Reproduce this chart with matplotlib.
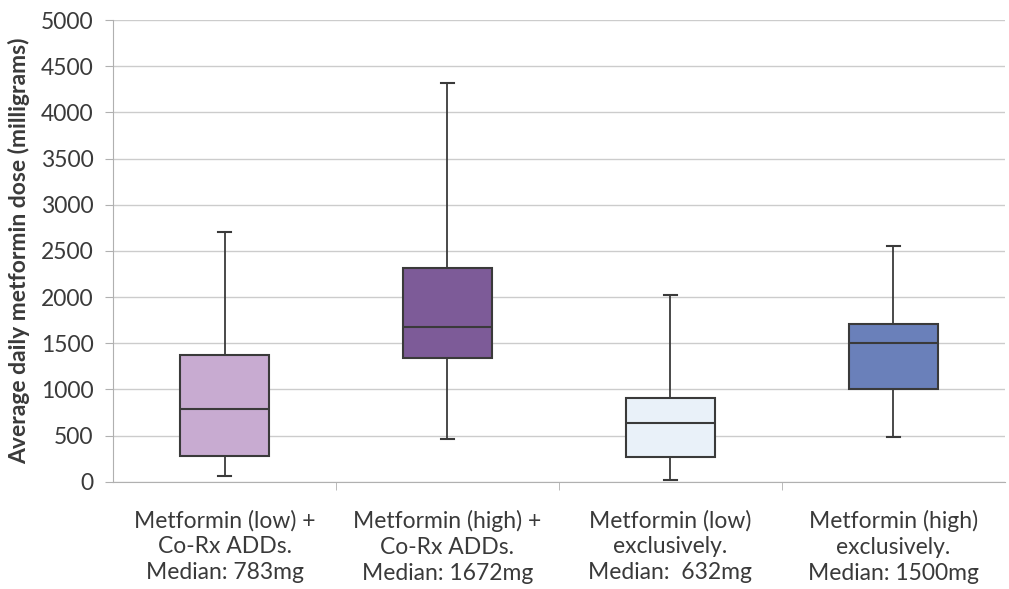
import matplotlib.pyplot as plt

categories = ["Metformin (low) +\nCo-Rx ADDs.\nMedian: 783mg",
              "Metformin (high) +\nCo-Rx ADDs.\nMedian: 1672mg",
              "Metformin (low)\nexclusively.\nMedian:  632mg",
              "Metformin (high)\nexclusively.\nMedian: 1500mg"]
whisker_low = [65, 460, 20, 480]
q1 = [280, 1340, 265, 1000]
medians = [783, 1672, 632, 1500]
q3 = [1370, 2315, 905, 1705]
whisker_high = [2700, 4320, 2020, 2550]
colors = ["#c8abd1", "#7d5b98", "#e9f1f9", "#6a80ba"]

plt.rcParams['font.family'] = ['Lato', 'DejaVu Sans']

fig = plt.figure(figsize=(10.09, 5.89), dpi=100)
ax = fig.add_axes([0.112, 0.182, 0.884, 0.784])

stats = []
for i in range(len(categories)):
    stats.append(dict(whislo=whisker_low[i], q1=q1[i], med=medians[i],
                      q3=q3[i], whishi=whisker_high[i], fliers=[]))

edge = "#3a3a3a"
bp = ax.bxp(stats, positions=range(1, 5), widths=0.4, patch_artist=True,
            showfliers=False, capwidths=0.055,
            boxprops=dict(edgecolor=edge, linewidth=1.5),
            medianprops=dict(color=edge, linewidth=1.5),
            whiskerprops=dict(color=edge, linewidth=1.3),
            capprops=dict(color=edge, linewidth=1.5))
for patch, c in zip(bp['boxes'], colors):
    patch.set_facecolor(c)

ax.set_xlim(0.5, 4.5)
ax.set_ylim(0, 5000)
ax.set_yticks(range(0, 5001, 500))
ax.set_xticks(range(1, 5))
ax.set_xticklabels(categories, fontsize=16.5, color="#3a3a3a", linespacing=1.3)
ax.set_xticks([1.5, 2.5, 3.5], minor=True)
ax.tick_params(axis='x', which='major', length=0, pad=20)
ax.tick_params(axis='x', which='minor', length=6, color="#b0b0b0")
ax.tick_params(axis='y', length=6, color="#b0b0b0", labelsize=16.5,
               labelcolor="#3a3a3a", pad=8)

ax.grid(axis='y', color="#cccccc", linewidth=1)
ax.set_axisbelow(True)
for s in ['top', 'right']:
    ax.spines[s].set_visible(False)
ax.spines['left'].set_color("#b0b0b0")
ax.spines['bottom'].set_color("#b0b0b0")

ax.set_ylabel("Average daily metformin dose (milligrams)", fontsize=16.5,
              fontweight='bold', color="#3a3a3a", labelpad=8)

fig.savefig("out.png", dpi=100)
